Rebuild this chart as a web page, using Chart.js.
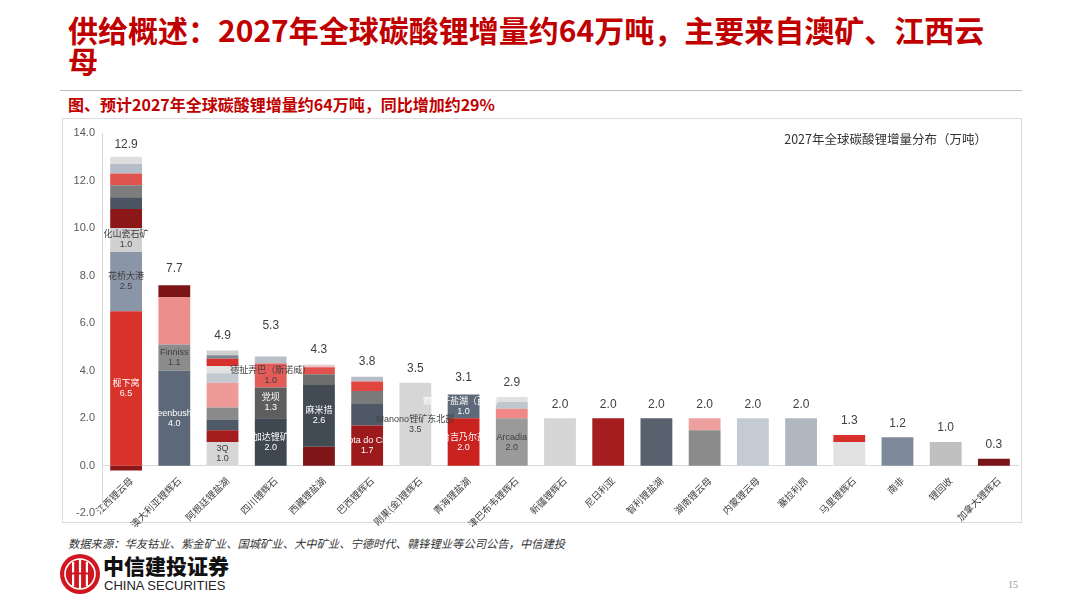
<!DOCTYPE html>
<html>
<head>
<meta charset="utf-8">
<script src="https://cdn.jsdelivr.net/npm/chart.js@4.4.0/dist/chart.umd.min.js"></script>
<style>
  body { margin: 0; width: 1080px; height: 608px; background: #fff; position: relative; overflow: hidden;
         font-family: "Liberation Sans", "Noto Sans CJK SC", sans-serif; }
  .abs { position: absolute; white-space: nowrap; }
  #title { left: 68px; top: 14px; font-size: 30px; line-height: 31px; font-weight: 700; color: #c00000;
           font-family: "Noto Sans CJK SC", sans-serif; }
  #rule { left: 60px; top: 90px; width: 962px; height: 1px; background: #bdbdbd; }
  #sub { left: 68px; top: 95px; font-size: 16px; line-height: 18px; font-weight: 700; color: #c00000;
         font-family: "Noto Sans CJK SC", sans-serif; }
  #box { left: 62px; top: 118px; width: 958px; height: 403px; border: 1px solid #dcdcdc; }
  #inner { right: 93px; top: 131px; font-size: 12.5px; line-height: 16px; color: #333;
           font-family: "Noto Sans CJK SC", sans-serif; }
  #src { left: 68px; top: 535px; font-size: 11.3px; line-height: 16px; color: #333; font-style: italic;
         font-family: "Noto Sans CJK SC", sans-serif; }
  #logo { left: 59px; top: 553px; }
  #cn { left: 103px; top: 553px; font-size: 21px; line-height: 25px; font-weight: 900; color: #111;
        font-family: "Noto Sans CJK SC", sans-serif; }
  #en { left: 104px; top: 578px; font-size: 13px; line-height: 15px; color: #222;
        font-family: "Liberation Sans Narrow", "Liberation Sans", sans-serif; }
  #page { left: 1008px; top: 579px; font-size: 10px; color: #999; font-family: "Liberation Serif", serif; }
  #wrap { position: absolute; left: 62px; top: 118px; width: 960px; height: 409px; }
</style>
</head>
<body>
<div class="abs" id="title">供给概述：2027年全球碳酸锂增量约64万吨，主要来自澳矿、江西云<br>母</div>
<div class="abs" id="rule"></div>
<div class="abs" id="sub">图、预计2027年全球碳酸锂增量约64万吨，同比增加约29%</div>
<div class="abs" id="box"></div>
<div id="wrap"><canvas id="supplyChart"></canvas></div>
<div class="abs" id="inner">2027年全球碳酸锂增量分布（万吨）</div>
<div class="abs" id="src">数据来源：华友钴业、紫金矿业、国城矿业、大中矿业、宁德时代、赣锋锂业等公司公告，中信建投</div>
<svg class="abs" id="logo" width="42" height="42" viewBox="0 0 42 42">
  <circle cx="21" cy="21" r="20" fill="#d0161f"/>
  <circle cx="21" cy="21" r="15" fill="none" stroke="#fff" stroke-width="1.6"/>
  <rect x="13" y="9" width="2.2" height="24" fill="#fff"/>
  <rect x="19.9" y="6" width="2.2" height="30" fill="#fff"/>
  <rect x="26.8" y="9" width="2.2" height="24" fill="#fff"/>
  <rect x="10" y="19.5" width="22" height="2" fill="#d0161f"/>
</svg>
<div class="abs" id="cn">中信建投证券</div>
<div class="abs" id="en">CHINA SECURITIES</div>
<div class="abs" id="page">15</div>

<script>
const categories = ['江西锂云母', '澳大利亚锂辉石', '阿根廷锂盐湖', '四川锂辉石', '西藏锂盐湖', '巴西锂辉石',
    '刚果(金)锂辉石', '青海锂盐湖', '津巴布韦锂辉石', '新疆锂辉石', '尼日利亚', '智利锂盐湖', '湖南锂云母',
    '内蒙锂云母', '塞拉利昂', '马里锂辉石', '南非', '锂回收', '加拿大锂辉石'];

const totals = [12.9, 7.7, 4.9, 5.3, 4.3, 3.8, 3.5, 3.1, 2.9, 2.0, 2.0, 2.0, 2.0, 2.0, 2.0, 1.3, 1.2, 1.0, 0.3];

// stacked layers, bottom to top (one value per category, null = no segment)
const layer1 = [6.5, 4.0, 1.0, 2.0, 0.8, 1.7, 3.5, 2.0, 2.0, 2.0, 2.0, 2.0, 1.5, 2.0, 2.0, 1.0, 1.2, 1.0, 0.3];
const layer2 = [2.5, 1.1, 0.5, 1.3, 2.6, 0.9, null, 1.0, 0.4, null, null, null, 0.5, null, null, 0.3, null, null, null];
const layer3 = [1.0, 2.0, 0.45, 1.0, 0.45, 0.55, null, null, 0.3, null, null, null, null, null, null, null, null, null, null];
const layer4 = [0.8, 0.5, 0.5, 0.3, 0.3, 0.4, null, null, 0.2, null, null, null, null, null, null, null, null, null, null];
const layer5 = [0.5, null, 1.05, null, 0.1, 0.2, null, null, null, null, null, null, null, null, null, null, null, null, null];
const layer6 = [0.5, null, 0.4, null, null, null, null, null, null, null, null, null, null, null, null, null, null, null, null];
const layer7 = [0.5, null, 0.3, null, null, null, null, null, null, null, null, null, null, null, null, null, null, null, null];
const layer8 = [0.4, null, 0.3, null, null, null, null, null, null, null, null, null, null, null, null, null, null, null, null];
const layer9 = [0.3, null, 0.15, null, null, null, null, null, null, null, null, null, null, null, null, null, null, null, null];
const layer10 = [null, null, 0.2, null, null, null, null, null, null, null, null, null, null, null, null, null, null, null, null];
const belowZero = [-0.2, null, null, null, null, null, null, null, null, null, null, null, null, null, null, null, null, null, null];

// named segments: [layer index, category index, name]
const segmentNames = [
    [0, 0, '枧下窝'], [1, 0, '花桥大港'], [2, 0, '化山瓷石矿'],
    [0, 1, 'Greenbushes'], [1, 1, 'Finniss'],
    [0, 2, '3Q'],
    [0, 3, '加达锂矿'], [1, 3, '党坝'], [2, 3, '德扯弄巴（斯诺威）'],
    [1, 4, '麻米措'],
    [0, 5, 'Grota do Cirilo'],
    [0, 6, 'Manono锂矿东北部'],
    [0, 7, '西台吉乃尔盐湖'], [1, 7, '察尔汗盐湖（西北）'],
    [0, 8, 'Arcadia']
];

// colours per layer, per category
const colors1 = ['#d9322b', '#5d6878', '#d6d6d6', '#3f4750', '#7e1518', '#9c1a1c', '#d6d6d6', '#c9221f', '#9a9a9a',
    '#d5d5d5', '#a51d1e', '#58616d', '#8b8b8b', '#c4cbd2', '#b1b7c0', '#e1e1e1', '#7e8a9a', '#c0c0c0', '#7a1517'];
const colors2 = ['#8a96a8', '#8c8c8c', '#a31c1e', '#5e5e5e', '#424a54', '#4e5866', null, '#5e6a79', '#ef8886',
    null, null, null, '#eea09f', null, null, '#d9302b', null, null, null];
const colors3 = ['#d0d0d0', '#ec8f8c', '#4f5a68', '#e35c57', '#6e6e6e', '#7a7a7a', null, null, '#c0c6ce',
    null, null, null, null, null, null, null, null, null, null];
const colors4 = ['#8b1719', '#7d1416', '#8a8a8a', '#b8bfc9', '#e2514c', '#e0453f', null, null, '#e0e0e0',
    null, null, null, null, null, null, null, null, null, null];
const colors5 = ['#4b5562', null, '#ee9a98', null, '#e8c8c8', '#b5bcc6'];
const colors6 = ['#7d7d7d', null, '#c3c9d0'];
const colors7 = ['#e05450', null, '#e2e2e2'];
const colors8 = ['#b5bdc8', null, '#d8302b'];
const colors9 = ['#dedede', null, '#7c8796'];
const colors10 = [null, null, '#cfcfcf'];
const colorsNeg = ['#8b1719'];

const layers = [layer1, layer2, layer3, layer4, layer5, layer6, layer7, layer8, layer9, layer10, belowZero];
const layerColors = [colors1, colors2, colors3, colors4, colors5, colors6, colors7, colors8, colors9, colors10, colorsNeg];

const datasets = layers.map((data, i) => ({
    label: 'L' + (i + 1),
    data: data,
    backgroundColor: categories.map((c, j) => layerColors[i][j] || '#cccccc'),
    borderWidth: 0,
    barPercentage: 0.66,
    categoryPercentage: 1.0
}));

function isDark(hex) {
    const r = parseInt(hex.substr(1, 2), 16), g = parseInt(hex.substr(3, 2), 16), b = parseInt(hex.substr(5, 2), 16);
    return 0.299 * r + 0.587 * g + 0.114 * b < 120;
}

const labelPlugin = {
    id: 'labels',
    afterDatasetsDraw(chart) {
        const ctx = chart.ctx;
        const xs = chart.scales.x, ys = chart.scales.y;
        ctx.save();
        ctx.textAlign = 'center';
        ctx.textBaseline = 'middle';

        // totals above bars
        ctx.font = '12px "Liberation Sans", sans-serif';
        ctx.fillStyle = '#404040';
        totals.forEach((t, i) => {
            ctx.fillText(t.toFixed(1), xs.getPixelForValue(i), ys.getPixelForValue(t) - 14);
        });

        // names inside segments
        ctx.font = '9px "Liberation Sans", "Noto Sans CJK SC", sans-serif';
        segmentNames.forEach(([l, i, name]) => {
            const el = chart.getDatasetMeta(l).data[i];
            const cy = (el.y + el.base) / 2;
            const bg = layerColors[l][i];
            ctx.fillStyle = isDark(bg) ? '#ffffff' : '#404040';
            ctx.fillText(name, el.x, cy - 5);
            ctx.fillText(layers[l][i].toFixed(1), el.x, cy + 5);
        });
        ctx.restore();
    }
};

const supplyChart = new Chart(document.getElementById('supplyChart').getContext('2d'), {
    type: 'bar',
    data: {
        labels: categories,
        datasets: datasets
    },
    plugins: [labelPlugin],
    options: {
        responsive: true,
        maintainAspectRatio: false,
        animation: false,
        layout: { padding: { top: 15, bottom: 1, right: 4, left: 0 } },
        plugins: {
            legend: { display: false },
            tooltip: { enabled: false }
        },
        scales: {
            x: {
                stacked: true,
                position: { y: 0 },
                grid: { display: false },
                border: { display: true, color: '#d9d9d9' },
                ticks: {
                    minRotation: 45,
                    maxRotation: 45,
                    autoSkip: false,
                    padding: 1,
                    labelOffset: 5,
                    color: '#404040',
                    font: { size: 9.5, family: '"Noto Sans CJK SC", sans-serif' }
                }
            },
            y: {
                stacked: true,
                min: -2,
                max: 14,
                afterFit: s => { s.width = 40; },
                grid: { display: false, drawTicks: false },
                border: { display: true, color: '#d9d9d9' },
                ticks: {
                    stepSize: 2,
                    padding: 7,
                    color: '#595959',
                    font: { size: 11, family: '"Liberation Sans", sans-serif' },
                    callback: v => v.toFixed(1)
                }
            }
        }
    }
});
</script>
</body>
</html>
